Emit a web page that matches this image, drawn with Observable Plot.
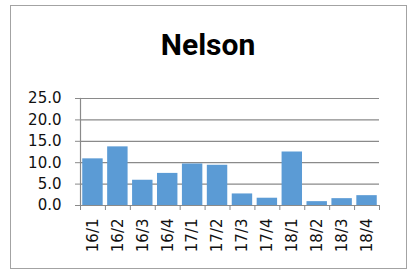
<!DOCTYPE html>
<html>
<head>
<meta charset="utf-8">
<script src="https://cdn.jsdelivr.net/npm/d3@7"></script>
<script src="https://cdn.jsdelivr.net/npm/@observablehq/plot@0.6"></script>
<style>
  html, body { margin: 0; padding: 0; background: #fff; }
  #wrap { position: relative; width: 409px; height: 271px; overflow: hidden; }
  #frame { position: absolute; left: 10px; top: 5px; width: 397px; height: 264px; box-sizing: border-box; border: 1.5px solid #a3a3a3; }
  #title { position: absolute; left: 0; top: 30px; width: 416px; text-align: center; font-family: Roboto, "Liberation Sans", sans-serif; font-weight: 700; font-size: 30px; line-height: 30px; color: #000; }
  #chart { position: absolute; left: 0; top: 0; }
</style>
</head>
<body>
<div id="wrap">
  <div id="frame"></div>
  <div id="chart"></div>
  <div id="title">Nelson</div>
</div>
<script>
const categories = ["16/1","16/2","16/3","16/4","17/1","17/2","17/3","17/4","18/1","18/2","18/3","18/4"];
const values = [10.9, 13.7, 5.9, 7.5, 9.7, 9.4, 2.7, 1.7, 12.5, 0.9, 1.6, 2.3];
const yTicks = [0, 5, 10, 15, 20, 25];

const data = categories.map((q, i) => ({q, v: values[i]}));

const W = 409, H = 271, mL = 80, mR = 30, mT = 98, mB = 66;
const step = (W - mL - mR) / categories.length;
const axisGray = "#8a8a8a";

const chart = Plot.plot({
  width: W,
  height: H,
  marginLeft: mL,
  marginRight: mR,
  marginTop: mT,
  marginBottom: mB,
  style: {fontFamily: "DejaVu Sans", fontSize: "15px", color: "#111", background: "transparent", overflow: "visible"},
  x: {domain: categories, paddingInner: 0.18, paddingOuter: 0.09, round: false, label: null},
  y: {domain: [0, 25], label: null},
  marks: [
    Plot.ruleY(yTicks, {stroke: axisGray, strokeWidth: 1.2, strokeOpacity: 1}),
    Plot.barY(data, {x: "q", y: "v", fill: "#5b9bd5"}),
    Plot.frame({anchor: "left", stroke: axisGray, strokeWidth: 1.2}),
    Plot.axisY({ticks: yTicks, tickFormat: d3.format(".1f"), tickSize: 5, tickPadding: 14, stroke: axisGray, strokeOpacity: 1, fontSize: 15, fill: "#111", label: null}),
    Plot.axisX({tickSize: 5, tickFormat: () => "", dx: -step / 2, stroke: axisGray, strokeOpacity: 1, label: null}),
    Plot.axisX({ticks: [categories[categories.length - 1]], tickSize: 5, tickFormat: () => "", dx: step / 2, stroke: axisGray, strokeOpacity: 1, label: null}),
    Plot.axisX({tickSize: 0, tickRotate: -90, tickPadding: 13, fontSize: 15, fill: "#111", label: null})
  ]
});
document.getElementById("chart").appendChild(chart);
</script>
</body>
</html>
